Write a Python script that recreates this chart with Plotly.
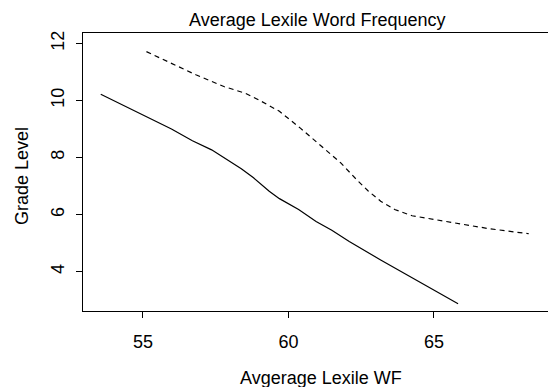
import plotly.graph_objects as go

# Data
solid_x = [53.55, 55.98, 56.70, 57.36, 58.38, 58.80, 59.34, 59.69, 60.35, 60.95, 61.49, 62.09, 63.17, 65.83]
solid_y = [10.22, 9.00, 8.59, 8.27, 7.61, 7.29, 6.82, 6.56, 6.18, 5.76, 5.45, 5.06, 4.41, 2.88]

dashed_x = [55.12, 55.98, 56.82, 57.78, 58.50, 58.98, 59.69, 60.41, 61.25, 61.79, 62.33, 62.75, 63.17, 63.65, 64.25, 65.68, 66.88, 68.26]
dashed_y = [11.71, 11.30, 10.90, 10.49, 10.26, 10.02, 9.62, 9.03, 8.29, 7.82, 7.24, 6.82, 6.47, 6.18, 5.96, 5.71, 5.51, 5.33]

x_ticks = [55, 60, 65]
y_ticks = [4, 6, 8, 10, 12]

FONT = "Liberation Sans, Arial, Helvetica, sans-serif"

fig = go.Figure()
fig.add_trace(go.Scatter(x=solid_x, y=solid_y, mode="lines",
                         line=dict(color="black", width=1.2), showlegend=False))
fig.add_trace(go.Scatter(x=dashed_x, y=dashed_y, mode="lines",
                         line=dict(color="black", width=1.2, dash="5px,4px"), showlegend=False))

W, H = 548, 387
ml, mr, mt, mb = 83, 0, 33, 76
pw, ph = W - ml - mr, H - mt - mb


def px_x(p):
    return (p - ml) / pw


def px_y(p):
    return (H - mb - p) / ph


fig.update_layout(
    width=W, height=H,
    margin=dict(l=ml, r=mr, t=mt, b=mb, autoexpand=False),
    paper_bgcolor="white", plot_bgcolor="white",
    font=dict(family=FONT, size=18, color="black"),
    xaxis=dict(range=[52.94, 68.92], tickvals=x_ticks, ticktext=[str(v) for v in x_ticks],
               showgrid=False, zeroline=False, showline=True, linecolor="black", linewidth=1,
               mirror=True, ticks="outside", ticklen=6, tickcolor="black", tickwidth=1,
               tickfont=dict(size=18), automargin=False, ticklabelstandoff=8),
    yaxis=dict(range=[2.623, 12.364], tickvals=y_ticks, ticktext=[str(v) for v in y_ticks],
               showgrid=False, zeroline=False, showline=True, linecolor="black", linewidth=1,
               ticks="outside", ticklen=6, tickcolor="black", tickwidth=1,
               tickangle=-90, tickfont=dict(size=18), automargin=False, ticklabelstandoff=5),
    annotations=[
        dict(text="Average Lexile Word Frequency", xref="paper", yref="paper",
             x=px_x(317), y=px_y(19.5), xanchor="center", yanchor="middle",
             showarrow=False, font=dict(size=18)),
        dict(text="Avgerage Lexile WF", xref="paper", yref="paper",
             x=px_x(321), y=px_y(378), xanchor="center", yanchor="middle",
             showarrow=False, font=dict(size=18)),
        dict(text="Grade Level", xref="paper", yref="paper",
             x=px_x(22), y=px_y(176), xanchor="center", yanchor="middle",
             textangle=-90, showarrow=False, font=dict(size=18)),
    ],
)

fig.write_html(
    "out.html",
    config={"displayModeBar": False},
    post_script="document.body.style.margin='0';document.body.style.overflow='hidden';",
)
